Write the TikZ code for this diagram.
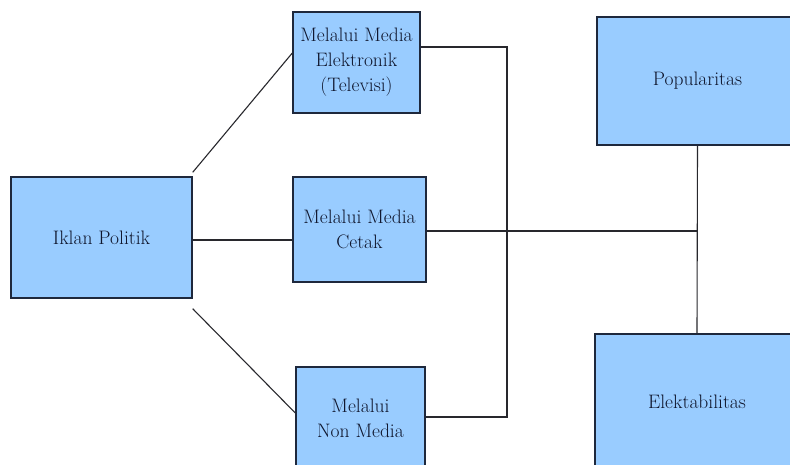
\documentclass[tikz,border=0pt]{standalone}
\definecolor{boxfill}{RGB}{153,204,255}
\definecolor{boxline}{RGB}{30,40,60}
\definecolor{txt}{RGB}{15,22,45}
\definecolor{wire}{RGB}{40,40,45}
\begin{document}
\begin{tikzpicture}[x=1pt,y=-1pt,
  box/.style={draw=boxline,line width=1.4pt,fill=boxfill,inner sep=0pt,
    text=txt,align=center,font=\fontsize{19.5}{25}\selectfont},
  wirestyle/.style={draw=wire,line width=1.1pt}]
\useasboundingbox (0,0) rectangle (790,464);
\clip (0,0) rectangle (790,464);
\fill[white] (0,0) rectangle (790,464);
\node[box,minimum width=181pt,minimum height=121pt] (iklan) at (101.5,237.5) {Iklan Politik};
\node[box,minimum width=127pt,minimum height=101pt] (elek) at (356.5,62.5) {Melalui Media\\Elektronik\\(Televisi)};
\node[box,minimum width=133pt,minimum height=105pt] (cetak) at (359.5,229.5) {Melalui Media\\Cetak};
\node[box,minimum width=129pt,minimum height=102pt] (non) at (360.5,418) {Melalui\\Non Media};
\node[box,minimum width=201pt,minimum height=128pt] (pop) at (697.5,81) {Popularitas};
\node[box,minimum width=204pt,minimum height=136pt] (elekt) at (697,402) {Elektabilitas};
\coordinate (busT) at (507,47);
\coordinate (busB) at (507,417);
\coordinate (junc) at (697,231);
\draw[wirestyle] ([yshift=4pt]iklan.north east) -- ([yshift=9.5pt]elek.west);
\draw[wirestyle] ([yshift=-2.5pt]iklan.east) -- ([yshift=-10.5pt]cetak.west);
\draw[wirestyle] ([yshift=-10pt]iklan.south east) -- ([yshift=5pt]non.west);
\draw[wirestyle] ([yshift=15.5pt]elek.east) -- (busT) -- (busB) -- ([yshift=1pt]non.east);
\draw[wirestyle] ([yshift=-1.5pt]cetak.east) -- (junc);
\draw[wirestyle] (pop.south) -- (elekt.north);
\end{tikzpicture}
\end{document}
